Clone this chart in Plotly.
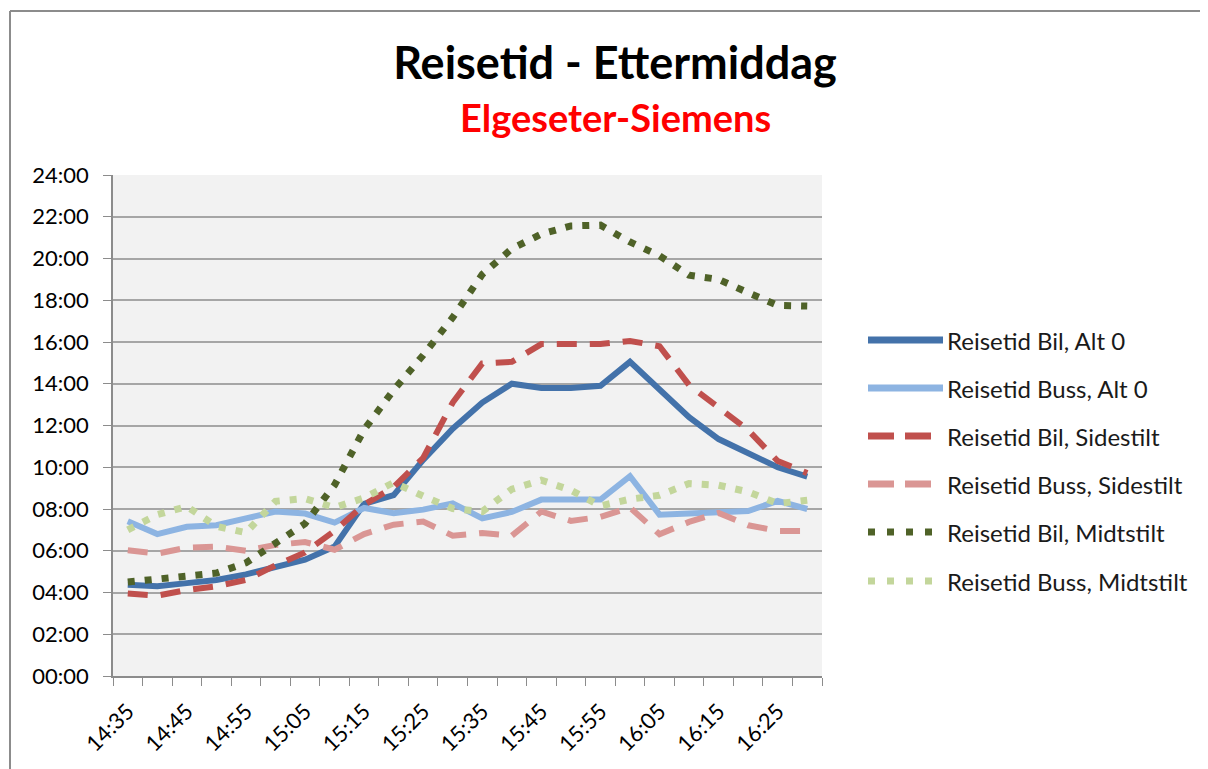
import plotly.graph_objects as go

# ---------------- data ----------------
categories = ["14:35", "14:40", "14:45", "14:50", "14:55", "15:00", "15:05", "15:10",
              "15:15", "15:20", "15:25", "15:30", "15:35", "15:40", "15:45", "15:50",
              "15:55", "16:00", "16:05", "16:10", "16:15", "16:20", "16:25", "16:30"]

# travel times in minutes
bil_alt0 = [4.37, 4.30, 4.45, 4.60, 4.87, 5.25, 5.57, 6.20, 8.25, 8.66, 10.35, 11.85,
            13.10, 14.00, 13.80, 13.80, 13.90, 15.05, 13.70, 12.40, 11.35, 10.65, 10.00, 9.55]
buss_alt0 = [7.41, 6.80, 7.15, 7.22, 7.55, 7.88, 7.78, 7.35, 8.05, 7.80, 7.97, 8.27,
             7.55, 7.86, 8.45, 8.45, 8.45, 9.57, 7.73, 7.78, 7.86, 7.90, 8.39, 8.00]
bil_side = [3.95, 3.85, 4.12, 4.30, 4.60, 5.30, 5.92, 6.95, 8.20, 9.05, 10.45, 13.10,
            14.97, 15.05, 15.90, 15.93, 15.90, 16.05, 15.80, 13.94, 12.90, 11.78, 10.30, 9.72]
buss_side = [6.02, 5.86, 6.15, 6.20, 6.00, 6.28, 6.42, 6.05, 6.80, 7.25, 7.40, 6.72,
             6.85, 6.72, 7.88, 7.43, 7.62, 8.07, 6.79, 7.38, 7.81, 7.22, 6.95, 6.95]
bil_midt = [4.50, 4.66, 4.82, 4.93, 5.42, 6.35, 7.30, 9.15, 11.80, 13.70, 15.37, 17.18,
            19.24, 20.47, 21.17, 21.56, 21.60, 20.79, 20.13, 19.20, 19.00, 18.36, 17.75, 17.72]
buss_midt = [7.00, 7.73, 8.12, 7.17, 6.87, 8.37, 8.50, 8.07, 8.53, 9.27, 8.62, 8.02,
             7.88, 8.95, 9.38, 8.90, 8.15, 8.47, 8.66, 9.22, 9.14, 8.82, 8.26, 8.42]

series_names = ["Reisetid Bil, Alt 0", "Reisetid Buss, Alt 0",
                "Reisetid Bil, Sidestilt", "Reisetid Buss, Sidestilt",
                "Reisetid Bil, Midtstilt", "Reisetid Buss, Midtstilt"]
series_values = [bil_alt0, buss_alt0, bil_side, buss_side, bil_midt, buss_midt]

y_tick_vals = [0, 2, 4, 6, 8, 10, 12, 14, 16, 18, 20, 22, 24]
y_tick_text = ["00:00", "02:00", "04:00", "06:00", "08:00", "10:00", "12:00",
               "14:00", "16:00", "18:00", "20:00", "22:00", "24:00"]

title_text = "Reisetid - Ettermiddag"
subtitle_text = "Elgeseter-Siemens"

# ---------------- styles ----------------
colors = ["#4372AA", "#8DB4E2", "#C0504D", "#DA9694", "#4F6228", "#C3D69B"]
dashes = ["solid", "solid", "20px,13px", "20px,13px", "7px,10px", "7px,10px"]
widths = [6, 6, 6, 6, 7, 7]
legend_dashes = ["solid", "solid", "26px,11px", "26px,11px", "7px,12px", "7px,12px"]
legend_len = [75, 75, 64, 64, 64, 64]
FONT = "Lato, 'Open Sans', sans-serif"

OFF = 8                      # page body margin
W, H = 1208 - OFF, 769 - OFF
# plot area in page pixel coordinates
PL, PR, PT, PB = 113, 822, 175, 676
L, R, T, B = PL - OFF, PR - OFF, PT - OFF, PB - OFF

def px_x(x):  # page px -> paper
    return (x - PL) / (PR - PL)

def px_y(y):
    return (PB - y) / (PB - PT)

fig = go.Figure()
for name, vals, c, d, w in zip(series_names, series_values, colors, dashes, widths):
    fig.add_trace(go.Scatter(
        x=categories, y=vals, name=name, mode="lines",
        line=dict(color=c, width=w, dash=d),
        showlegend=False,
    ))

tick_text_x = [c if i % 2 == 0 else "" for i, c in enumerate(categories)]

shapes = []
annotations = []
# frame around chart (as in the screenshot)
shapes.append(dict(type="line", xref="paper", yref="paper",
                   x0=px_x(10), x1=px_x(1215), y0=px_y(11), y1=px_y(11),
                   line=dict(color="#8C8C8C", width=2)))
shapes.append(dict(type="line", xref="paper", yref="paper",
                   x0=px_x(10), x1=px_x(10), y0=px_y(11), y1=px_y(780),
                   line=dict(color="#8C8C8C", width=2)))

# custom legend
leg_y = [340, 388, 436, 484, 532, 581]
for name, c, d, ly, ll in zip(series_names, colors, legend_dashes, leg_y, legend_len):
    shapes.append(dict(type="line", xref="paper", yref="paper",
                       x0=px_x(868), x1=px_x(868 + ll), y0=px_y(ly), y1=px_y(ly),
                       line=dict(color=c, width=7, dash=d)))
    annotations.append(dict(text=name, xref="paper", yref="paper",
                            x=px_x(945), y=px_y(ly), xanchor="left", yanchor="middle",
                            showarrow=False, font=dict(family=FONT, size=24, color="#1a1a1a")))

annotations.append(dict(text="<b>" + subtitle_text + "</b>", xref="paper", yref="paper",
                        x=px_x(615), y=px_y(117), xanchor="center", yanchor="middle",
                        showarrow=False, font=dict(family=FONT, size=38, color="#FF0000")))

fig.update_layout(
    width=W, height=H,
    margin=dict(l=L, r=W - R, t=T, b=H - B),
    paper_bgcolor="white",
    plot_bgcolor="#F2F2F2",
    title=dict(text="<b>" + title_text + "</b>", x=(615 - OFF) / W, xanchor="center",
               y=1 - (63 - OFF) / H, yanchor="middle", yref="container",
               font=dict(family=FONT, size=45, color="black")),
    font=dict(family=FONT, color="black"),
    shapes=shapes,
    annotations=annotations,
    xaxis=dict(
        type="category", categoryorder="array", categoryarray=categories,
        tickmode="array", tickvals=categories, ticktext=tick_text_x,
        tickson="boundaries", ticks="outside", ticklen=8, tickcolor="#8C8C8C",
        tickangle=-45, tickfont=dict(family=FONT, size=22, color="black"),
        showgrid=False, showline=True, linecolor="#8C8C8C", linewidth=1.5,
        range=[-0.5, len(categories) - 0.5], zeroline=False,
        ticklabelstandoff=12,
    ),
    yaxis=dict(
        range=[0, 24], tickmode="array", tickvals=y_tick_vals, ticktext=y_tick_text,
        ticks="outside", ticklen=8, tickcolor="#8C8C8C",
        tickfont=dict(family=FONT, size=22, color="black"),
        showgrid=True, gridcolor="#A6A6A6", gridwidth=1.5,
        showline=True, linecolor="#8C8C8C", linewidth=1.5, zeroline=False,
        ticklabelstandoff=10,
    ),
)

fig.write_html("out.html")
